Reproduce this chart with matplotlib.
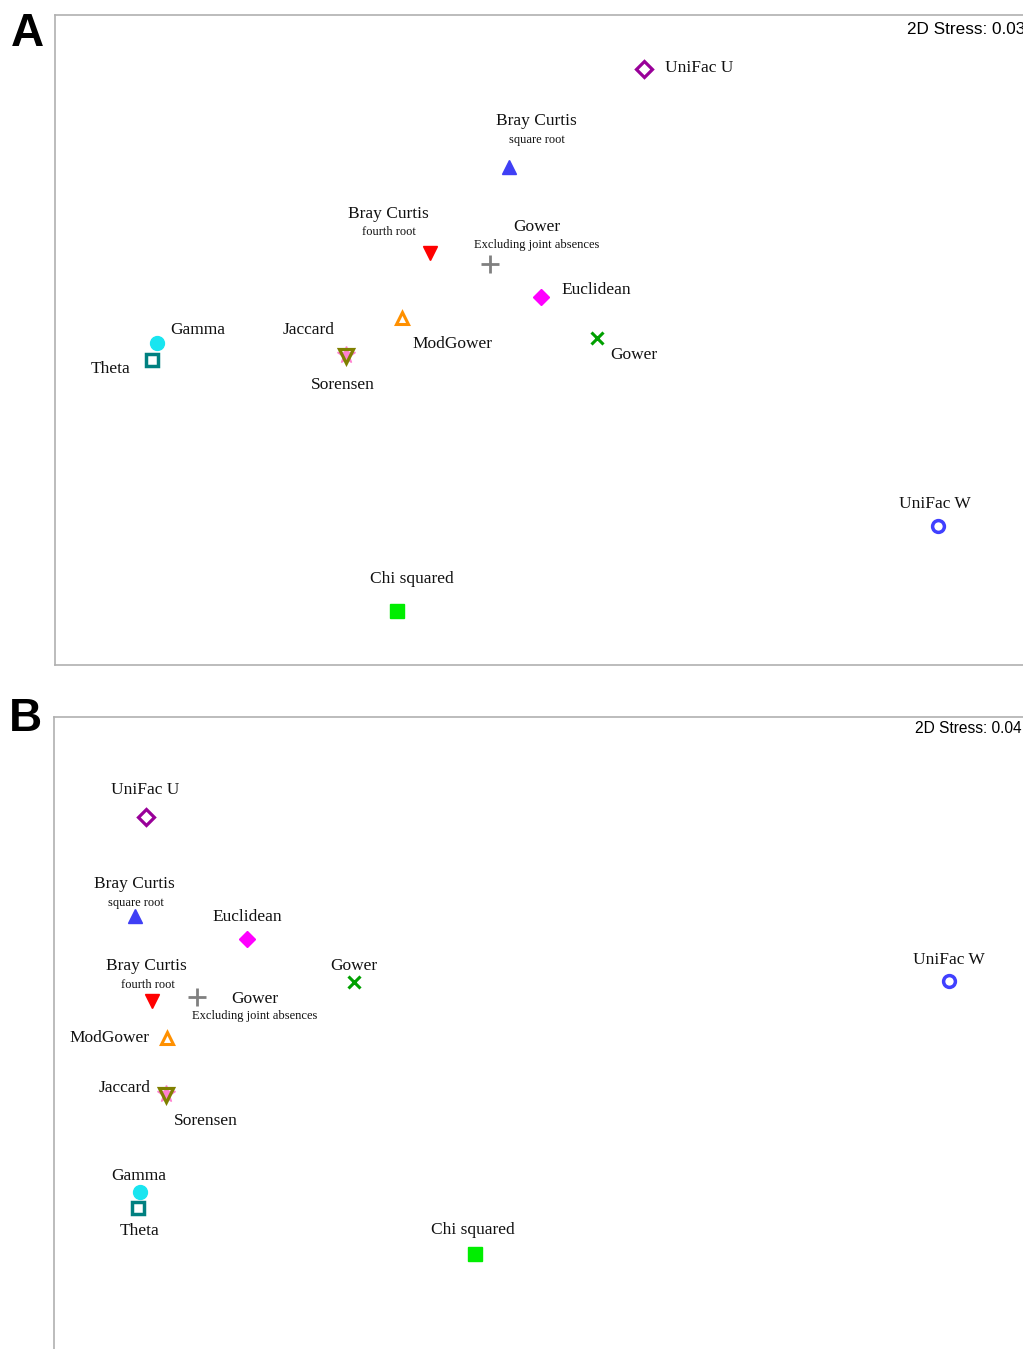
import matplotlib
matplotlib.use("Agg")
import matplotlib.pyplot as plt

# ---- data: NMDS ordination coordinates (arbitrary units) ----
methods = ["UniFac U", "Bray Curtis sqrt", "Bray Curtis 4th", "Gower excl", "Euclidean",
           "ModGower", "Gower", "Gamma", "Theta", "Jaccard", "Sorensen", "UniFac W",
           "Chi squared"]
titles = ["UniFac U", "Bray Curtis", "Bray Curtis", "Gower", "Euclidean",
          "ModGower", "Gower", "Gamma", "Theta", "Jaccard", "Sorensen", "UniFac W",
          "Chi squared"]
subtitles = ["", "square root", "fourth root", "Excluding joint absences", "",
             "", "", "", "", "", "", "", ""]

a_x = [58.9, 45.4, 37.5, 43.5, 48.6, 34.7, 54.2, 10.2, 9.7, 29.1, 29.1, 88.3, 34.2]
a_y = [59.6, 49.8, 41.2, 40.1, 36.8, 34.7, 32.7, 32.2, 30.5, 31.0, 30.9, 13.9, 5.4]
a_stress = 0.03

b_x = [9.2, 8.1, 9.8, 14.3, 19.3, 11.3, 30.0, 8.6, 8.4, 11.2, 11.2, 89.5, 42.1]
b_y = [54.3, 44.4, 35.9, 36.3, 42.1, 32.2, 37.8, 16.8, 15.2, 26.6, 26.5, 37.9, 10.6]
b_stress = 0.04

# ---- styles ----
styles = {
    "UniFac U":         dict(marker="D", mfc="white", mec="#990099", ms=8, mew=2.3),
    "Bray Curtis sqrt": dict(marker="^", mfc="#3f3ff5", mec="#3f3ff5", ms=10, mew=1),
    "Bray Curtis 4th":  dict(marker="v", mfc="#ff0000", mec="#ff0000", ms=10, mew=1),
    "Gower excl":       dict(marker="+", mfc="none", mec="#808080", ms=13, mew=2),
    "Euclidean":        dict(marker="D", mfc="#ff00ff", mec="#ff00ff", ms=8.5, mew=1),
    "ModGower":         dict(marker="^", mfc="white", mec="#ff9000", ms=9, mew=2.2),
    "Gower":            dict(marker="x", mfc="none", mec="#00a000", ms=9, mew=2.2),
    "Gamma":            dict(marker="o", mfc="#19e5f0", mec="#19e5f0", ms=10, mew=1),
    "Theta":            dict(marker="s", mfc="white", mec="#008080", ms=8.5, mew=2.5),
    "Jaccard":          dict(marker="*", mfc="#ff80d0", mec="#ff80d0", ms=13, mew=1),
    "Sorensen":         dict(marker="v", mfc="none", mec="#808000", ms=10, mew=2.3),
    "UniFac W":         dict(marker="o", mfc="white", mec="#4040ff", ms=8.5, mew=2.5),
    "Chi squared":      dict(marker="s", mfc="#00ee00", mec="#00ee00", ms=10, mew=1),
}

# label offsets in pixels: (title dx, dy, ha, subtitle dx, dy)
a_offsets = [(21, 3, "left", 0, 0), (27, 48, "center", 28, 29), (-42, 41, "center", -41, 23),
             (47, 39, "center", 47, 21), (20, 9, "left", 0, 0), (10, -24, "left", 0, 0),
             (13, -15, "left", 0, 0), (13, 15, "left", 0, 0), (-41, -7, "center", 0, 0),
             (-37, 27, "center", 0, 0), (-3, -27, "center", 0, 0), (-3, 24, "center", 0, 0),
             (15, 34, "center", 0, 0)]
b_offsets = [(-1, 29, "center", 0, 0), (-1, 34, "center", 1, 15), (-6, 37, "center", -4, 18),
             (58, 0, "center", 58, -17), (0, 24, "center", 0, 0), (-58, 2, "center", 0, 0),
             (0, 18, "center", 0, 0), (-1, 18, "center", 0, 0), (2, -21, "center", 0, 0),
             (-41, 8, "center", 0, 0), (40, -24, "center", 0, 0), (0, 23, "center", 0, 0),
             (-2, 26, "center", 0, 0)]

W, H = 1023, 1349
fig = plt.figure(figsize=(W / 100, H / 100), dpi=100)
serif = "Liberation Serif"
sans = "Liberation Sans"
text_drop = 2  # va='center' sits a touch high for serif glyphs


def draw_panel(rect, xs, ys, offsets, xlim, ylim):
    ax = fig.add_axes(rect)
    for name, x, y in zip(methods, xs, ys):
        st = styles[name]
        ax.plot([x], [y], linestyle="none", marker=st["marker"], markerfacecolor=st["mfc"],
                markeredgecolor=st["mec"], markersize=st["ms"], markeredgewidth=st["mew"],
                zorder=3)
    for title, sub, x, y, (dx, dy, ha, sdx, sdy) in zip(titles, subtitles, xs, ys, offsets):
        ax.annotate(title, (x, y), xytext=(dx, dy - text_drop), textcoords="offset pixels",
                    ha=ha, va="center", fontsize=12.5, family=serif, color="#111111")
        if sub:
            ax.annotate(sub, (x, y), xytext=(sdx, sdy - text_drop), textcoords="offset pixels",
                        ha="center", va="center", fontsize=9, family=serif, color="#111111")
    ax.set_xlim(*xlim)
    ax.set_ylim(*ylim)
    ax.set_xticks([])
    ax.set_yticks([])
    for sp in ax.spines.values():
        sp.set_color("#b0b0b0")
        sp.set_linewidth(1.2)
    return ax


# panel A: axes box from px (55, 15) to beyond right edge, bottom at 665
draw_panel([55 / W, 1 - 665 / H, 985 / W, 650 / H], a_x, a_y, a_offsets, (0, 98.5), (0, 65))
# panel B: axes box from px (54, 717), extends past right and bottom edges
draw_panel([54 / W, 1 - 1360 / H, 986 / W, 643 / H], b_x, b_y, b_offsets, (0, 98.6), (0, 64.3))

fig.text(907 / W, 1 - 29 / H, f"2D Stress: {a_stress:.2f}", ha="left", va="center",
         fontsize=12.3, family=sans)
fig.text(915 / W, 1 - 729 / H, f"2D Stress: {b_stress:.2f}", ha="left", va="center",
         fontsize=11.2, family=sans)

fig.text(27 / W, 1 - 34 / H, "A", ha="center", va="center", fontsize=33,
         fontweight="bold", family=sans)
fig.text(25 / W, 1 - 719 / H, "B", ha="center", va="center", fontsize=33,
         fontweight="bold", family=sans)

fig.savefig("out.png", dpi=100)
